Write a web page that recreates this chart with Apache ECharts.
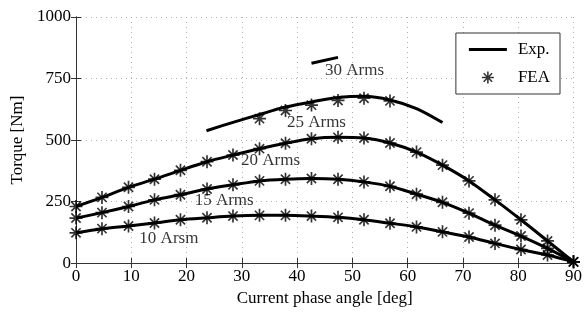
<!DOCTYPE html>
<html>
<head>
<meta charset="utf-8">
<script src="https://cdn.jsdelivr.net/npm/echarts@6/dist/echarts.min.js"></script>
<style>
  html, body { margin: 0; padding: 0; background: #fff; }
  #chart { width: 585px; height: 312px; }
</style>
</head>
<body>
<div id="chart"></div>
<script>
// FEA sample angles (deg) shared by the 10/15/20 A curves
var angles = [0, 4.7, 9.5, 14.2, 18.9, 23.7, 28.4, 33.2, 37.9, 42.6, 47.4, 52.1, 56.8, 61.6, 66.3, 71.1, 75.8, 80.5, 85.3, 90];

var t10 = [123, 140, 151, 163, 176, 184, 191, 194, 194, 191, 186, 176, 162, 147, 127, 106, 80, 55, 33, 5];
var t15 = [183, 205, 230, 257, 278, 301, 318, 334, 341, 344, 341, 330, 312, 280, 247, 203, 154, 110, 60, 5];
var t20 = [230, 267, 308, 341, 377, 412, 439, 465, 487, 505, 511, 508, 488, 451, 398, 334, 257, 176, 90, 5];

// 25 A: measured curve and the FEA points
var exp25Angles = [23.6, 28.4, 33.2, 37.9, 42.6, 47.4, 52.1, 56.8, 61.6, 66.3];
var exp25 = [538, 572, 604, 634, 655, 673, 678, 663, 628, 571];
var fea25Angles = [33.2, 37.9, 42.6, 47.4, 52.1, 56.8];
var fea25 = [587, 620, 642, 661, 670, 659];

// 30 A: short measured piece
var exp30Angles = [42.6, 47.4];
var exp30 = [812, 836];

// curve labels: text, angle, torque
var labelText = ['30 Arms', '25 Arms', '20 Arms', '15 Arms', '10 Arsm'];
var labelAngle = [50.4, 43.5, 35.2, 26.8, 16.8];
var labelTorque = [781, 572, 416, 255, 99];

function pairs(xs, ys) {
    return xs.map(function (x, i) { return [x, ys[i]]; });
}

var star = 'path://M-1.3,-10 L1.3,-10 L1.3,10 L-1.3,10 Z ' +
    'M-10,-1.3 L10,-1.3 L10,1.3 L-10,1.3 Z ' +
    'M-6.2,-8 L8,6.2 L6.2,8 L-8,-6.2 Z ' +
    'M-8,6.2 L6.2,-8 L8,-6.2 L-6.2,8 Z';
var lineIcon = 'path://M0,0 L38,0 L38,3 L0,3 Z';

var font = 'Liberation Serif';

function expLine(data) {
    return {
        name: 'Exp.',
        type: 'line',
        data: data,
        smooth: 0.3,
        symbol: 'none',
        lineStyle: { color: '#000', width: 3 },
        itemStyle: { color: '#000' },
        z: 2
    };
}

function feaPts(data) {
    return {
        name: 'FEA',
        type: 'scatter',
        data: data,
        symbol: star,
        symbolSize: 13,
        itemStyle: { color: '#000' },
        z: 3
    };
}

var myChart = echarts.init(document.getElementById('chart'));

var axisLine = { show: true, lineStyle: { color: '#333', width: 1 } };
var axisTick = { show: true, inside: true, length: 5, lineStyle: { color: '#333' } };
var labelStyle = { fontFamily: font, fontSize: 17, color: '#000', margin: 5 };
var gridLine = { show: true, lineStyle: { color: '#b0b0b0', type: [1, 4] } };

var option = {
    animation: false,
    backgroundColor: '#fff',
    textStyle: { fontFamily: font },
    grid: { left: 76, right: 10, top: 17, bottom: 45 },
    legend: {
        data: [
            { name: 'Exp.', icon: lineIcon },
            { name: 'FEA', icon: star }
        ],
        orient: 'vertical',
        right: 25,
        top: 33,
        itemWidth: 38,
        itemHeight: 12,
        itemGap: 11,
        padding: [8, 10, 8, 13],
        backgroundColor: '#fff',
        borderColor: '#333',
        borderWidth: 1,
        textStyle: { fontFamily: font, fontSize: 17, color: '#000', padding: [0, 0, 0, 6] }
    },
    xAxis: [{
        type: 'value',
        min: 0, max: 90, interval: 10,
        name: 'Current phase angle [deg]',
        nameLocation: 'middle',
        nameGap: 24,
        nameTextStyle: { fontFamily: font, fontSize: 17, color: '#000' },
        axisLabel: labelStyle,
        splitLine: gridLine,
        axisLine: axisLine,
        axisTick: axisTick
    }, {
        type: 'value',
        position: 'top',
        min: 0, max: 90, interval: 10,
        axisLabel: { show: false },
        splitLine: { show: false },
        axisLine: axisLine,
        axisTick: axisTick
    }],
    yAxis: [{
        type: 'value',
        min: 0, max: 1000, interval: 250,
        name: 'Torque [Nm]',
        nameLocation: 'middle',
        nameGap: 50,
        nameTextStyle: { fontFamily: font, fontSize: 17, color: '#000' },
        axisLabel: Object.assign({ formatter: function (v) { return String(v); } }, labelStyle),
        splitLine: gridLine,
        axisLine: axisLine,
        axisTick: axisTick
    }, {
        type: 'value',
        position: 'right',
        min: 0, max: 1000, interval: 250,
        axisLabel: { show: false },
        splitLine: { show: false },
        axisLine: axisLine,
        axisTick: axisTick
    }],
    series: [
        expLine(pairs(angles, t10)),
        expLine(pairs(angles, t15)),
        expLine(pairs(angles, t20)),
        expLine(pairs(exp25Angles, exp25)),
        expLine(pairs(exp30Angles, exp30)),
        feaPts(pairs(angles, t10)),
        feaPts(pairs(angles, t15)),
        feaPts(pairs(angles, t20)),
        feaPts(pairs(fea25Angles, fea25)),
        {
            name: 'labels',
            type: 'scatter',
            symbolSize: 0,
            silent: true,
            z: 4,
            data: labelText.map(function (t, i) {
                return { name: t, value: [labelAngle[i], labelTorque[i]] };
            }),
            label: {
                show: true,
                position: 'inside',
                formatter: '{b}',
                fontFamily: font,
                fontSize: 17,
                color: '#000'
            }
        }
    ]
};

myChart.setOption(option);
</script>
</body>
</html>
